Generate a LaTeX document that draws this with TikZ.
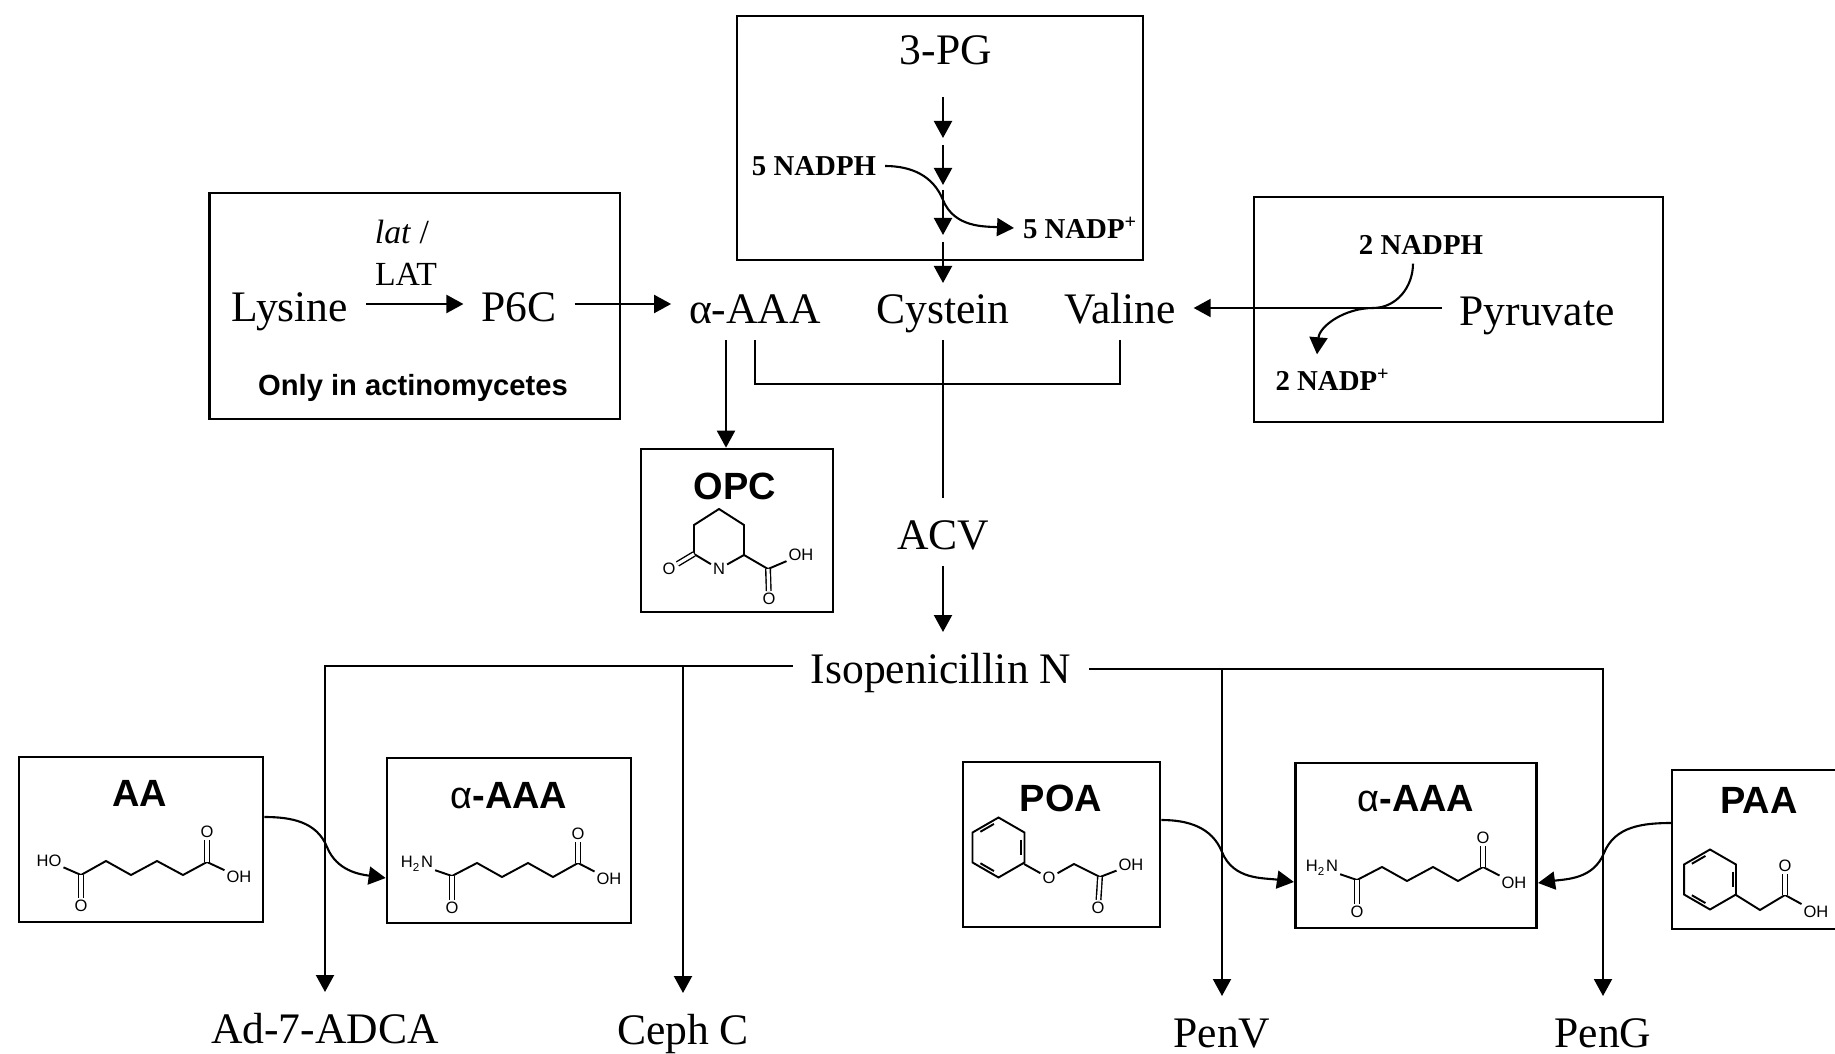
\documentclass[tikz,border=0pt]{standalone}
\usepackage{fontspec}
\setmainfont{Liberation Serif}
\setsansfont{Liberation Sans}
\usetikzlibrary{arrows.meta,positioning,calc}
\tikzset{
  box/.style 2 args={draw,line width=.75pt,minimum width=#1cm,minimum height=#2cm,inner sep=0pt},
  bigtext/.style={font=\fontsize{12.4}{14}\selectfont,inner sep=0pt,text height=.35cm,text depth=0pt,outer xsep=.18cm,outer ysep=.165cm},
  labeltext/.style={font=\fontsize{9.6}{11}\selectfont,inner sep=0pt},
  cofactor/.style={font=\fontsize{8.2}{10}\selectfont\bfseries,inner sep=0pt,outer sep=.09cm},
  boxtitle/.style={font=\fontsize{10.8}{12}\selectfont\sffamily\bfseries,inner sep=0pt},
  notetext/.style={font=\fontsize{8.3}{10}\selectfont\sffamily\bfseries,inner sep=0pt},
  atom/.style={font=\fontsize{4.7}{5}\selectfont\sffamily,inner sep=.4pt},
  bond/.style={line width=.55pt},
  dblbond/.style={line width=.4pt,double,double distance=.9pt},
  rxn/.style={line width=.6pt,-{Triangle[length=1.7mm,width=1.8mm]}},
  link/.style={line width=.6pt}
}
\newcommand\aminoadipic[2]{%
  \begin{scope}[shift={#2}]
    \node[atom] (#1n) at (4.17,8.64) {H\textsubscript{2}N};
    \node[atom] (#1o) at (4.52,9.08) {O};
    \node[atom] (#1p) at (5.78,8.34) {O};
    \node[atom] (#1h) at (6.09,8.79) {OH};
    \draw[bond] (#1n) -- (4.52,8.76) -- (4.77,8.63) -- (5.02,8.77) -- (5.28,8.63) -- (5.53,8.77) -- (5.78,8.63) -- (#1h);
    \draw[dblbond] (4.52,8.76) -- (#1o);
    \draw[dblbond] (5.78,8.63) -- (#1p);
  \end{scope}}
\newcommand\phenylring[1]{%
  \begin{scope}[shift={#1}]
    \draw[bond] (90:.3) -- (30:.3) -- (-30:.3) -- (-90:.3) -- (-150:.3) -- (150:.3) -- cycle;
    \foreach \a in {90,210,330}
      \draw[bond] ({\a+11}:.24) -- ({\a+49}:.24);
  \end{scope}}
\begin{document}
\begin{tikzpicture}[x=1cm,y=-1cm]
  \useasboundingbox (0,0) rectangle (18.35,10.54);
  \node[box={4.105}{2.26}] (lysbox) at (4.1475,3.06) {};
  \node[box={4.06}{2.44}] (pgbox) at (9.40,1.38) {};
  \node[box={4.09}{2.25}] (pyrbox) at (14.585,3.095) {};
  \node[box={1.92}{1.63}] (opcbox) at (7.37,5.305) {};
  \node[box={2.44}{1.65}] (aabox) at (1.41,8.395) {};
  \node[box={2.44}{1.65}] (laabox) at (5.09,8.405) {};
  \node[box={1.97}{1.65}] (poabox) at (10.615,8.445) {};
  \node[box={2.415}{1.65}] (raabox) at (14.16,8.455) {};
  \coordinate (paat) at (16.72,7.70);
  \coordinate (paab) at (16.72,9.29);
  \draw[line width=.75pt] (18.35,7.70) -- (paat) -- (paab) -- (18.35,9.29);

  \node[bigtext] (pg) at (9.46,.47) {3-PG};
  \node[bigtext] (lys) at (2.90,3.04) {Lysine};
  \node[bigtext] (p6c) at (5.19,3.04) {P6C};
  \node[bigtext] (aaa) at (7.55,3.06) {α-AAA};
  \node[bigtext] (cys) at (9.43,3.06) {Cystein};
  \node[bigtext] (val) at (11.20,3.06) {Valine};
  \node[bigtext] (pyr) at (15.37,3.08) {Pyruvate};
  \node[bigtext] (acv) at (9.43,5.32) {ACV};
  \node[bigtext] (iso) at (9.41,6.66) {Isopenicillin N};
  \node[bigtext] (adca) at (3.25,10.26) {Ad-7-ADCA};
  \node[bigtext] (ceph) at (6.83,10.27) {Ceph C};
  \node[bigtext] (penv) at (12.22,10.30) {PenV};
  \node[bigtext] (peng) at (16.03,10.30) {PenG};

  \node[labeltext] (lat) at (4.02,2.32) {\textit{lat} /};
  \node[labeltext] (lath) at (4.06,2.74) {LAT};
  \node[notetext] (only) at (4.13,3.88) {Only in actinomycetes};
  \node[cofactor] (fnadph) at (8.14,1.66) {5 NADPH};
  \node[cofactor,anchor=west] (fnadp) at (10.14,2.28) {5 NADP\textsuperscript{+}};
  \node[cofactor] (tnadph) at (14.21,2.45) {2 NADPH};
  \node[cofactor] (tnadp) at (13.33,3.80) {2 NADP\textsuperscript{+}};

  \node[boxtitle] (opct) at (7.35,4.86) {OPC};
  \node[boxtitle] (aat) at (1.40,7.93) {AA};
  \node[boxtitle] (laat) at (5.09,7.96) {\textmd{α}-AAA};
  \node[boxtitle] (poat) at (10.61,7.98) {POA};
  \node[boxtitle] (raat) at (14.16,7.99) {\textmd{α}-AAA};
  \node[boxtitle] (paat) at (17.59,8.00) {PAA};

  \coordinate (pga) at (9.43,.97);
  \coordinate (pgb) at (9.43,1.38);
  \coordinate (pgc) at (9.43,1.45);
  \coordinate (pgd) at (9.43,1.85);
  \coordinate (pge) at (9.43,1.90);
  \coordinate (pgf) at (9.43,2.35);
  \coordinate (pgg) at (9.43,2.42);
  \coordinate (pgh) at (9.43,2.83);
  \draw[rxn] (pga) -- (pgb);
  \draw[rxn] (pgc) -- (pgd);
  \draw[rxn] (pge) -- (pgf);
  \draw[rxn] (pgg) -- (pgh);
  \coordinate (fmid) at (9.43,2.00);
  \draw[rxn] (fnadph.east) to[out=0,in=112] (fmid) to[out=-68,in=177] (fnadp.west);

  \draw[rxn] (lys.east) -- (p6c.west);
  \draw[rxn] (p6c.east) -- (p6c.east -| aaa.west);
  \draw[rxn] (pyr.west) -- (pyr.west -| val.east);
  \coordinate (tmid) at (13.73,3.08);
  \draw[rxn] ([xshift=-.08cm]tnadph.south) to[out=-90,in=0] (tmid) to[out=180,in=85] ([xshift=-.16cm,yshift=.06cm]tnadp.north);

  \coordinate (opcin) at (7.26,3.40);
  \draw[rxn] (opcin) -- (opcin |- opcbox.north);
  \draw[link] (aaa.south) -- ++(0,.44) -| (val.south);
  \draw[link] (cys.south) -- (acv.north);
  \draw[rxn] (acv.south) -- (acv.south |- iso.north);

  \coordinate (isol) at (iso.west);
  \coordinate (isor) at ([yshift=-.03cm]iso.east);
  \draw[rxn] (isol) -| (adca.north);
  \draw[rxn] (isol -| ceph.north) -- (ceph.north);
  \draw[rxn] (isor) -| (peng.north);
  \draw[rxn] (isor -| penv.north) -- (penv.north);

  \coordinate (aamid) at (3.27,8.47);
  \draw[rxn] ([yshift=.225cm]aabox.east) to[out=0,in=112] (aamid) to[out=-68,in=172] ([yshift=-.375cm]laabox.west);
  \coordinate (poamid) at (12.22,8.52);
  \draw[rxn] ([yshift=.245cm]poabox.east) to[out=0,in=112] (poamid) to[out=-68,in=172] ([yshift=-.365cm]raabox.west);
  \coordinate (paamid) at (16.04,8.53);
  \coordinate (paaout) at (16.72,8.23);
  \draw[rxn] (paaout) to[out=180,in=68] (paamid) to[out=-112,in=8] ([yshift=-.375cm]raabox.east);

  % molecules
  \node[atom] (opcn) at (7.19,5.69) {N};
  \node[atom] (opco) at (6.69,5.69) {O};
  \node[atom] (opch) at (8.01,5.55) {OH};
  \node[atom] (opcp) at (7.69,5.99) {O};
  \draw[bond] (opcn) -- (6.94,5.54) -- (6.94,5.25) -- (7.19,5.09) -- (7.44,5.25) -- (7.44,5.55) -- (opcn);
  \draw[bond] (7.44,5.55) -- (7.68,5.69) -- (opch);
  \draw[dblbond] (6.94,5.54) -- (opco);
  \draw[dblbond] (7.68,5.69) -- (opcp);

  \node[atom] (aah) at (.49,8.61) {HO};
  \node[atom] (aao) at (.81,9.06) {O};
  \node[atom] (aap) at (2.07,8.32) {O};
  \node[atom] (aai) at (2.39,8.77) {OH};
  \draw[bond] (aah) -- (.81,8.75) -- (1.06,8.61) -- (1.31,8.75) -- (1.57,8.61) -- (1.83,8.75) -- (2.07,8.62) -- (aai);
  \draw[dblbond] (.81,8.75) -- (aao);
  \draw[dblbond] (2.07,8.62) -- (aap);

  \aminoadipic{la}{(0,0)}
  \aminoadipic{ra}{(9.05,.04)}

  \phenylring{(9.985,8.475)}
  \node[atom] (poao) at (10.49,8.78) {O};
  \node[atom] (poah) at (11.31,8.65) {OH};
  \node[atom] (poap) at (10.98,9.08) {O};
  \draw[bond] (10.24,8.64) -- (poao) -- (10.74,8.64) -- (11.00,8.77) -- (poah);
  \draw[dblbond] (11.00,8.77) -- (poap);

  \phenylring{(17.10,8.795)}
  \node[atom] (paap) at (17.85,8.66) {O};
  \node[atom] (paah) at (18.16,9.12) {OH};
  \draw[bond] (17.36,8.95) -- (17.60,9.10) -- (17.85,8.95) -- (paah);
  \draw[dblbond] (17.85,8.95) -- (paap);
\end{tikzpicture}
\end{document}
